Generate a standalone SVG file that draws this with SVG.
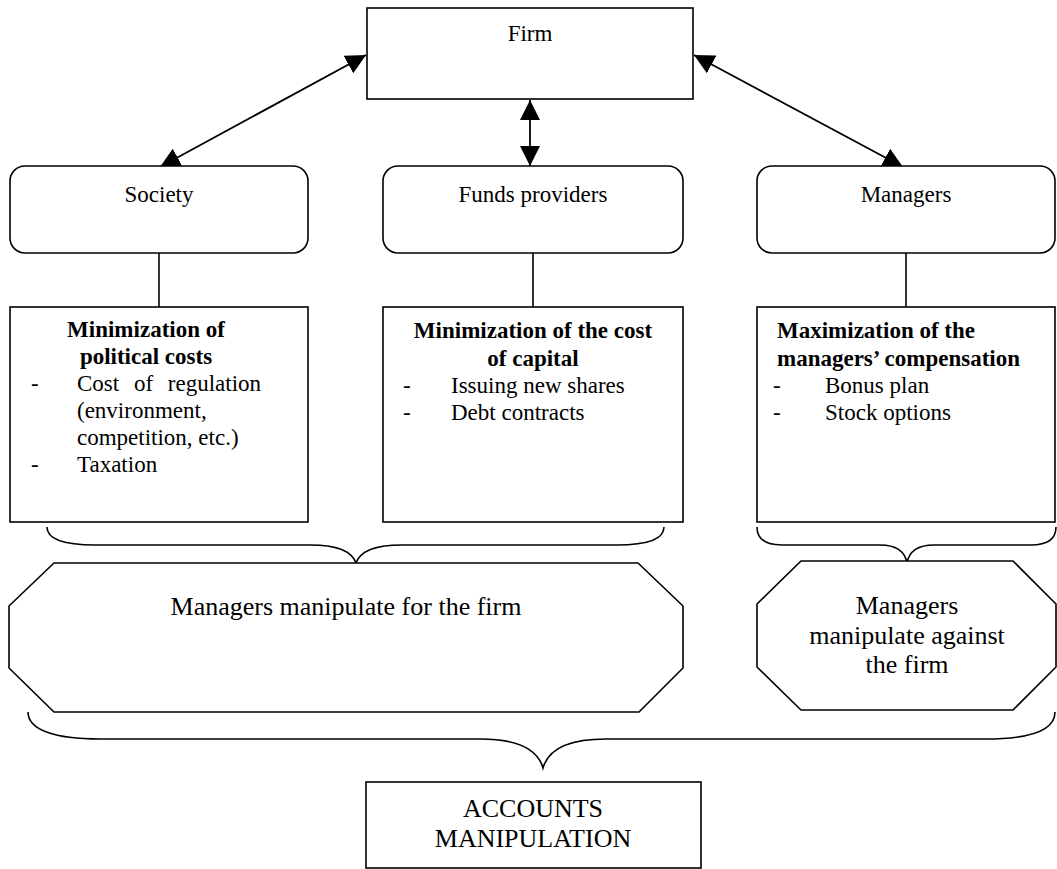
<svg xmlns="http://www.w3.org/2000/svg" width="1057" height="869" viewBox="0 0 1057 869" font-family="'Liberation Serif', 'Times New Roman', Times, serif" font-size="23">
  <defs>
    <marker id="head" viewBox="0 0 20 20" refX="20" refY="10" markerWidth="20" markerHeight="20" markerUnits="userSpaceOnUse" orient="auto-start-reverse">
      <path d="M0,0 L20,10 L0,20 Z" fill="#000"/>
    </marker>
    <style>
      .box { fill: #fff; stroke: #000; stroke-width: 1.6; }
      .line { fill: none; stroke: #000; stroke-width: 1.6; }
      .arrow { fill: none; stroke: #000; stroke-width: 1.8; marker-start: url(#head); marker-end: url(#head); }
      .c { text-anchor: middle; }
      .b { font-weight: bold; }
      .lg { font-size: 26px; }
    </style>
  </defs>
  <rect width="1057" height="869" fill="#fff"/>

  <!-- connectors -->
  <g id="connectors">
    <line class="arrow" x1="366" y1="55" x2="160" y2="167"/>
    <line class="arrow" x1="694" y1="55" x2="903" y2="167"/>
    <line class="arrow" x1="530" y1="100" x2="530" y2="166"/>
    <line class="line" x1="159" y1="253" x2="159" y2="307"/>
    <line class="line" x1="533" y1="253" x2="533" y2="307"/>
    <line class="line" x1="906" y1="253" x2="906" y2="307"/>
    <!-- braces -->
    <path class="line" d="M47,527 C47,540 65,545 95,545 L310,545 C340,545 352,552 356,563 C360,552 372,545 402,545 L617,545 C647,545 664,540 664,527"/>
    <path class="line" d="M757,527 C757,540 766,545 782,545 L880,545 C898,545 905,552 907,563 C909,552 916,545 934,545 L1031,545 C1047,545 1056,540 1056,527"/>
    <path class="line" d="M28,712 C28,730 55,739 100,739 L480,739 C520,739 538,750 543,768 C548,750 566,739 606,739 L985,739 C1030,739 1055,730 1055,712"/>
  </g>

  <g id="firm">
    <rect class="box" x="367" y="8" width="326" height="91"/>
    <text class="c" x="530" y="41">Firm</text>
  </g>

  <g id="society">
    <rect class="box" x="10" y="166" width="298" height="87" rx="15" ry="15"/>
    <text class="c" x="159" y="202">Society</text>
  </g>

  <g id="funds-providers">
    <rect class="box" x="383" y="166" width="300" height="87" rx="15" ry="15"/>
    <text class="c" x="533" y="202">Funds providers</text>
  </g>

  <g id="managers">
    <rect class="box" x="757" y="166" width="298" height="87" rx="15" ry="15"/>
    <text class="c" x="906" y="202">Managers</text>
  </g>

  <g id="political-costs">
    <rect class="box" x="10" y="307" width="298" height="215"/>
    <text class="c b" x="146" y="337">Minimization of</text>
    <text class="c b" x="146" y="364">political costs</text>
    <text x="31" y="391">-</text>
    <text x="77" y="391" word-spacing="9">Cost of regulation</text>
    <text x="77" y="418">(environment,</text>
    <text x="77" y="445">competition, etc.)</text>
    <text x="31" y="472">-</text>
    <text x="77" y="472">Taxation</text>
  </g>

  <g id="cost-of-capital">
    <rect class="box" x="383" y="307" width="300" height="215"/>
    <text class="c b" x="533" y="338">Minimization of the cost</text>
    <text class="c b" x="533" y="366">of capital</text>
    <text x="403" y="393">-</text>
    <text x="451" y="393">Issuing new shares</text>
    <text x="403" y="420">-</text>
    <text x="451" y="420">Debt contracts</text>
  </g>

  <g id="compensation">
    <rect class="box" x="757" y="307" width="298" height="215"/>
    <text class="b" x="777" y="338">Maximization of the</text>
    <text class="b" x="777" y="366">managers’ compensation</text>
    <text x="773" y="393">-</text>
    <text x="825" y="393">Bonus plan</text>
    <text x="773" y="420">-</text>
    <text x="825" y="420">Stock options</text>
  </g>

  <g id="for-the-firm">
    <polygon class="box" points="54,563 638,563 683,606 683,668 639,712 54,712 9,668 9,606"/>
    <text class="c lg" x="346" y="615">Managers manipulate for the firm</text>
  </g>

  <g id="against-the-firm">
    <polygon class="box" points="801,561 1013,561 1056,604 1056,667 1013,710 801,710 757,667 757,604"/>
    <text class="c lg" x="907" y="614">Managers</text>
    <text class="c lg" x="907" y="644">manipulate against</text>
    <text class="c lg" x="907" y="673">the firm</text>
  </g>

  <g id="accounts-manipulation">
    <rect class="box" x="366" y="782" width="335" height="86"/>
    <text class="c lg" x="533" y="817">ACCOUNTS</text>
    <text class="c lg" x="533" y="847">MANIPULATION</text>
  </g>
</svg>
